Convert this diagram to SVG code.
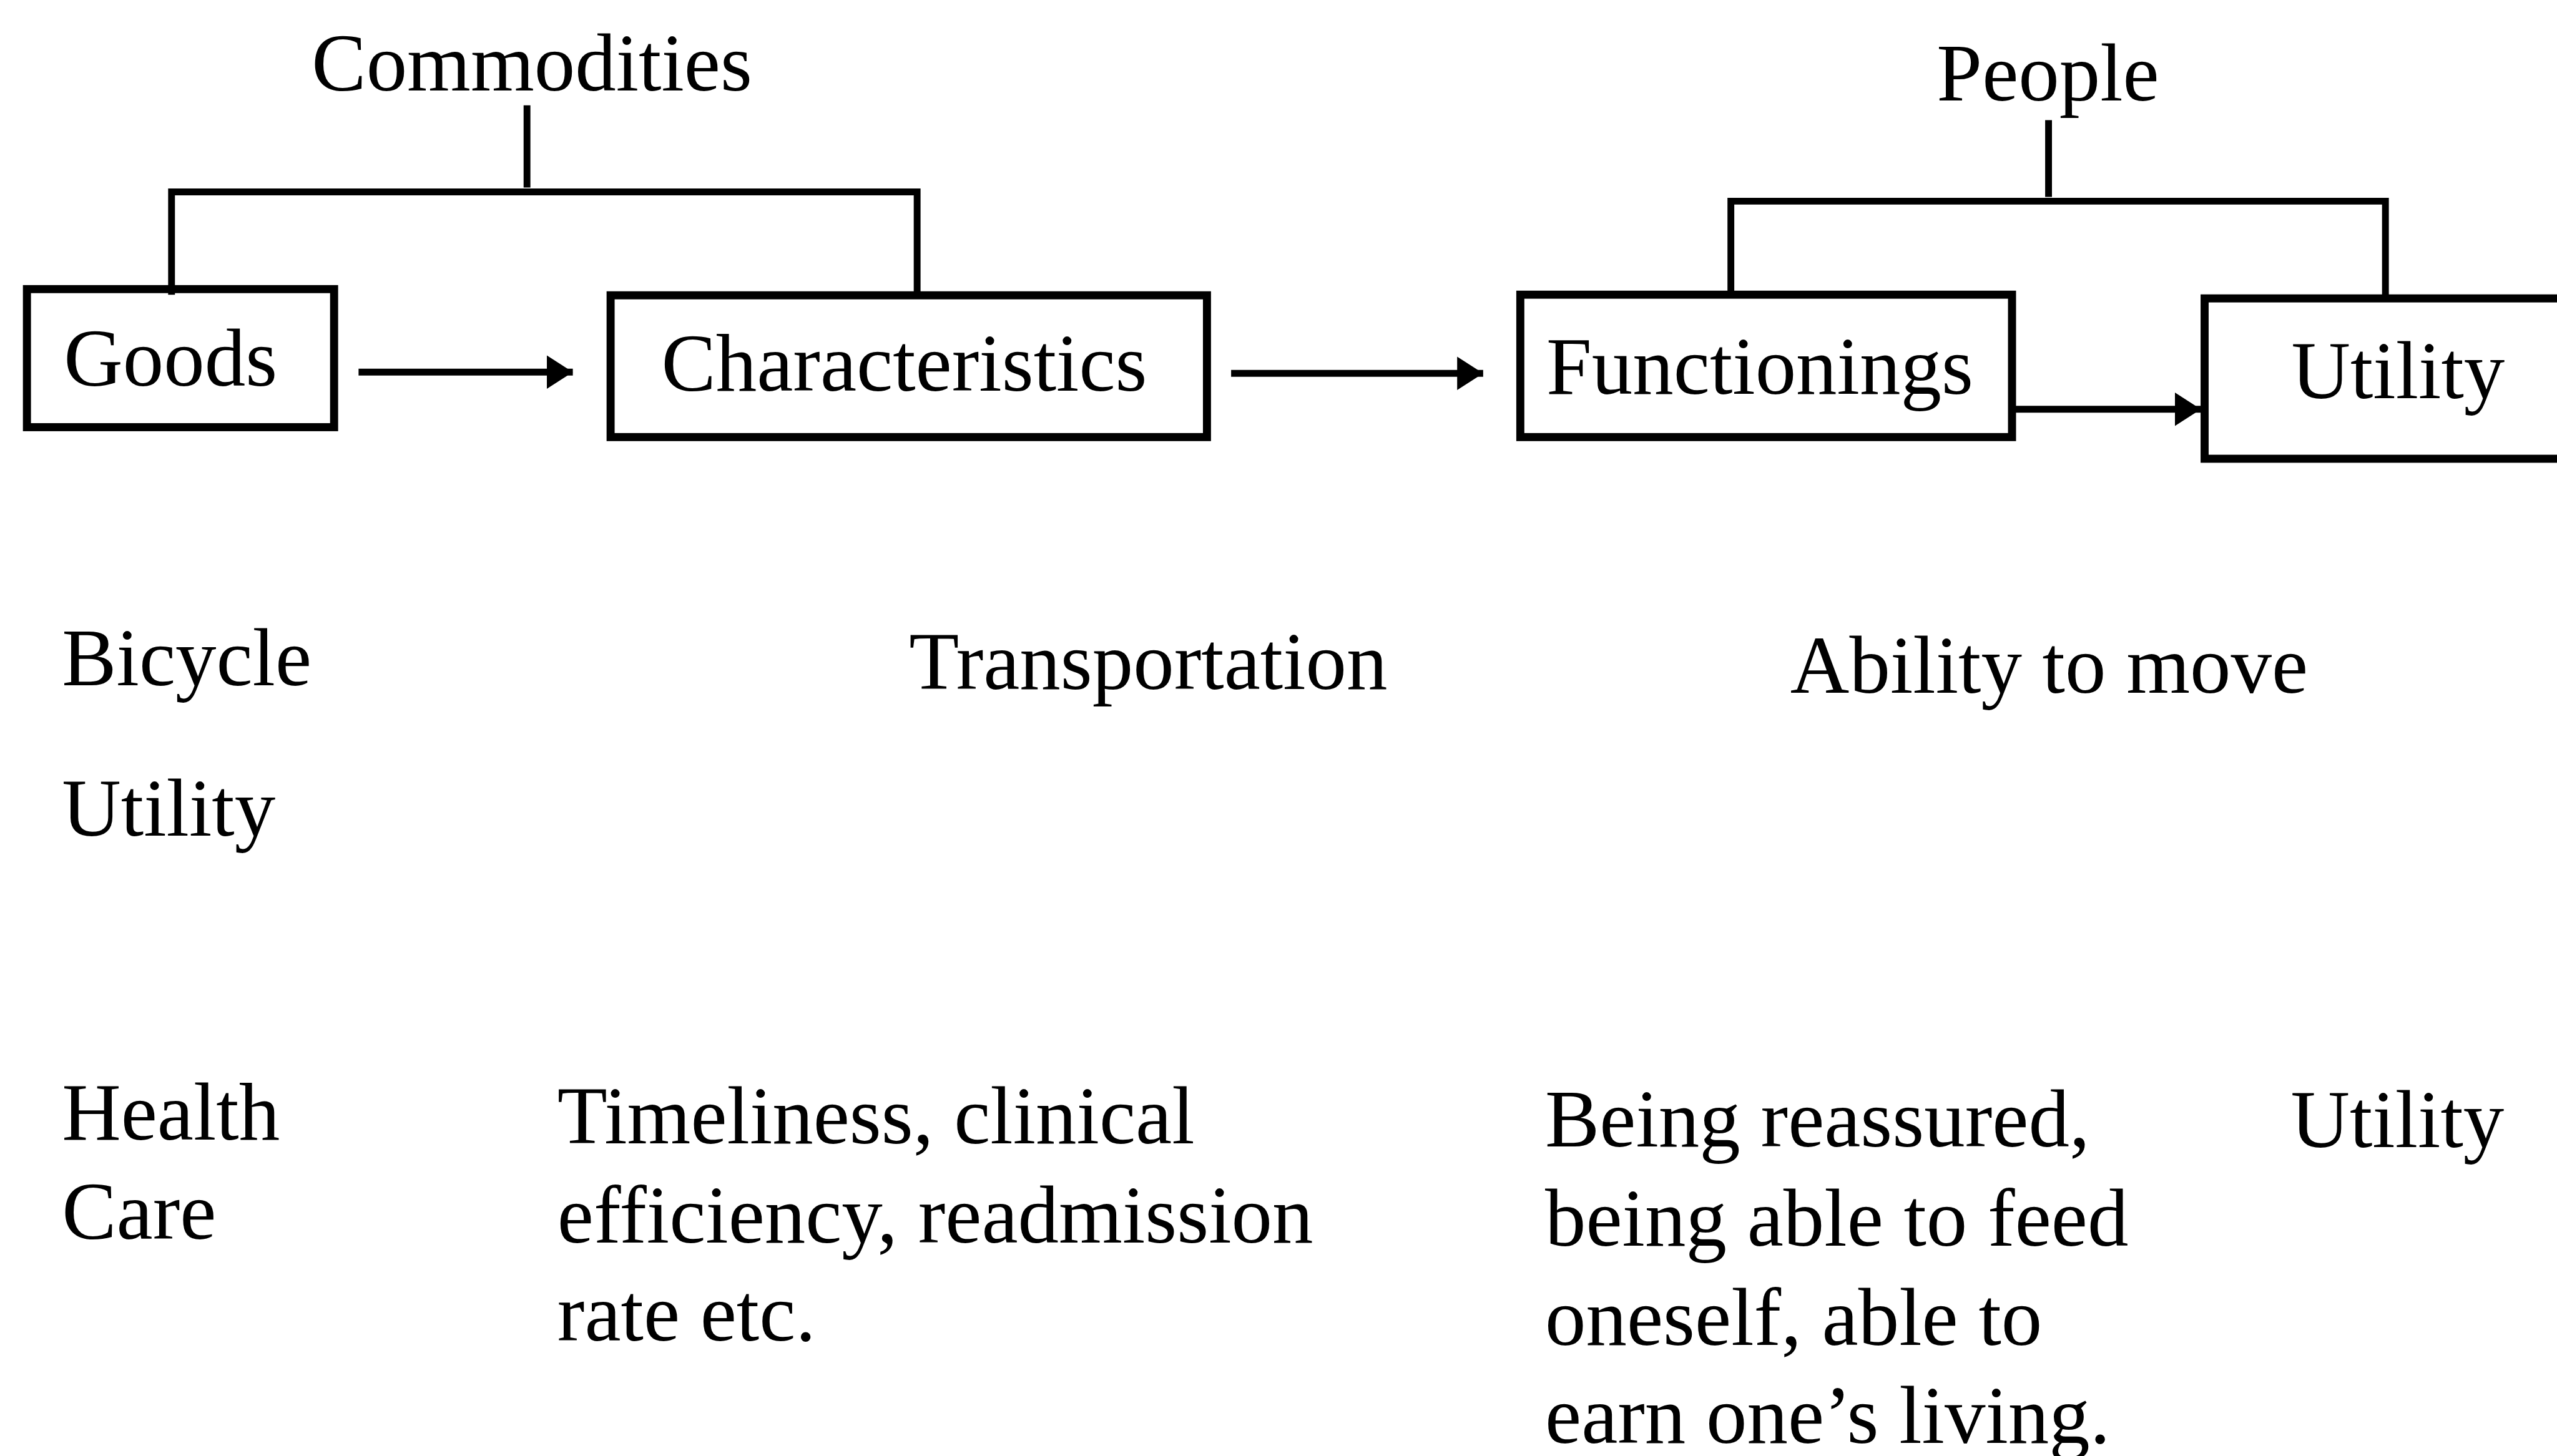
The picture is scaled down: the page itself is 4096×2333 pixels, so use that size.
<svg xmlns="http://www.w3.org/2000/svg" width="4096" height="2333" viewBox="0 0 4096 2333">
<style>
text{font-family:"Liberation Serif","Times New Roman",serif;font-size:132px;fill:#000}
.box{fill:none;stroke:#000;stroke-width:13}
.ln{fill:none;stroke:#000;stroke-width:12}
.arr{fill:none;stroke:#000;stroke-width:11;marker-end:url(#ah)}
</style>
<defs>
<marker id="ah" markerUnits="userSpaceOnUse" markerWidth="44" markerHeight="56" refX="42" refY="27" orient="auto">
<path d="M0,0 L42,27 L0,54 Z" fill="#000"/>
</marker>
</defs>
<rect width="4096" height="2333" fill="#fff"/>
<g transform="scale(0.992)">
<g id="connectors">
<path class="ln" d="M851,170 V303 M277,476 V310 H1481 V477" style="stroke-width:11"/>
<path class="ln" d="M3308,194 V318 M2795,476 V325 H3852 V482" style="stroke-width:11"/>
<line class="arr" x1="579" y1="601" x2="925" y2="601"/>
<line class="arr" x1="1988" y1="603" x2="2395" y2="603"/>
<line class="arr" x1="3255" y1="661" x2="3554" y2="661"/>
</g>
<g id="commodities"><text x="859" y="146" text-anchor="middle">Commodities</text></g>
<g id="people"><text x="3307" y="162" text-anchor="middle">People</text></g>
<g id="goods"><rect class="box" x="43.5" y="467" width="496" height="223"/><text x="103" y="623">Goods</text></g>
<g id="characteristics"><rect class="box" x="986" y="477" width="963" height="229"/><text x="1068" y="631">Characteristics</text></g>
<g id="functionings"><rect class="box" x="2455" y="476" width="794" height="230"/><text x="2497" y="636">Functionings</text></g>
<g id="utility"><rect class="box" x="3560" y="482" width="600" height="259"/><text x="3700" y="643">Utility</text></g>
<g id="row-bicycle">
<text x="100" y="1107">Bicycle</text>
<text x="1468" y="1113">Transportation</text>
<text x="2891" y="1119">Ability to move</text>
<text x="100" y="1350">Utility</text>
</g>
<g id="row-health">
<text x="100" y="1841">Health</text>
<text x="100" y="2001">Care</text>
<text x="900" y="1847">Timeliness, clinical</text>
<text x="900" y="2007">efficiency, readmission</text>
<text x="900" y="2165">rate etc.</text>
<text x="2495" y="1852">Being reassured,</text>
<text x="2495" y="2012">being able to feed</text>
<text x="2495" y="2172">oneself, able to</text>
<text x="2495" y="2331">earn one’s living.</text>
<text x="3699" y="1853">Utility</text>
</g>
</g>
</svg>
